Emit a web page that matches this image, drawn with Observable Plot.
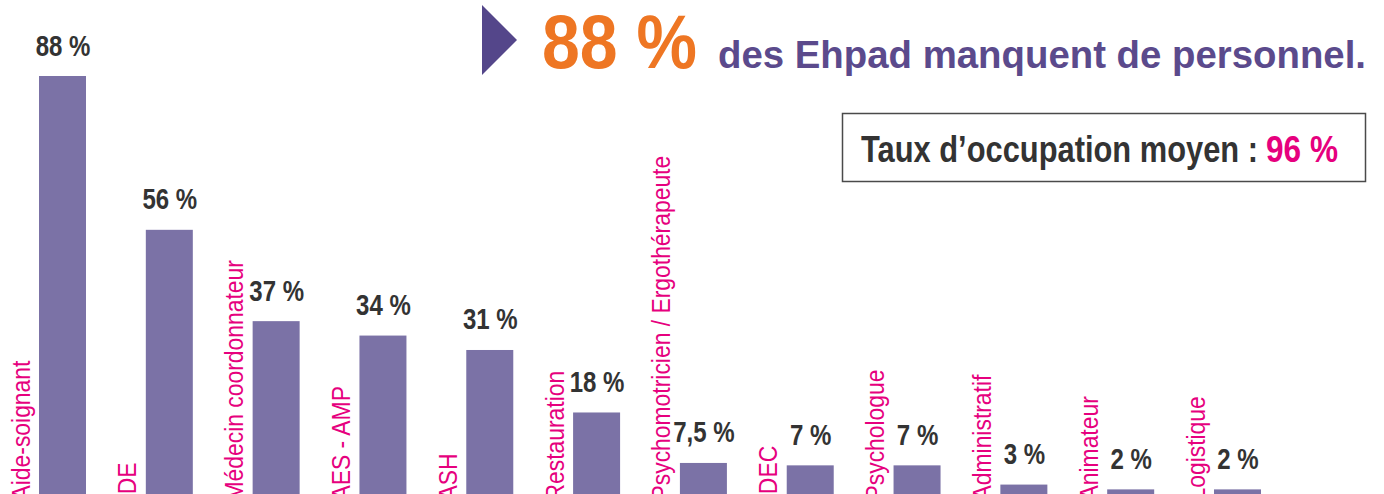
<!DOCTYPE html>
<html>
<head>
<meta charset="utf-8">
<script src="https://cdn.jsdelivr.net/npm/d3@7"></script>
<script src="https://cdn.jsdelivr.net/npm/@observablehq/plot@0.6"></script>
<style>
  html, body { margin: 0; padding: 0; background: #fff; overflow: hidden; width: 1384px; height: 494px; }
  #wrap { position: relative; width: 1384px; height: 494px; }
  #chart, #overlay { position: absolute; left: 0; top: 0; }
</style>
</head>
<body>
<div id="wrap"><div id="chart"></div><div id="overlay"></div></div>
<script>
// ---- data ----
const categories = ["Aide-soignant", "IDE", "Médecin coordonnateur", "AES - AMP", "ASH", "Restauration",
  "Psychomotricien / Ergothérapeute", "IDEC", "Psychologue", "Administratif", "Animateur", "Logistique"];
const values = [88, 56, 37, 34, 31, 18, 7.5, 7, 7, 3, 2, 2];
const valueLabels = ["88 %", "56 %", "37 %", "34 %", "31 %", "18 %", "7,5 %", "7 %", "7 %", "3 %", "2 %", "2 %"];
const headlineValue = "88 %";
const headlineText = "des Ehpad manquent de personnel.";
const occupancyLabel = "Taux d’occupation moyen :";
const occupancyValue = "96 %";

const rows = categories.map((c, i) => ({category: c, value: values[i], label: valueLabels[i]}));

const FONT = "'Liberation Sans', Arial, sans-serif";
const BAR = "#7b72a6";
const PINK = "#e6007e";
const DARK = "#333333";

// condense text horizontally (the original uses a condensed typeface)
function condense(el, factor) {
  const len = el.getComputedTextLength();
  el.setAttribute("textLength", (len * factor).toFixed(1));
  el.setAttribute("lengthAdjust", "spacingAndGlyphs");
}

const chart = Plot.plot({
  width: 1384,
  height: 500,
  marginTop: 76,
  marginBottom: 1,
  marginLeft: 39,
  marginRight: 123,
  style: {fontFamily: FONT, background: "transparent", overflow: "visible"},
  x: {domain: categories, paddingInner: 0.56, paddingOuter: 0, round: false, axis: null},
  y: {domain: [0, 88], axis: null},
  marks: [
    Plot.barY(rows, {x: "category", y: "value", fill: BAR}),
    Plot.text(rows, {x: "category", y: "value", text: "label", lineAnchor: "bottom", dy: -21,
      fontSize: 30, fontWeight: "bold", fill: DARK, fontFamily: FONT, className: "vlabel"}),
    Plot.text(rows, {x: "category", y: () => 0, text: "category", rotate: -90, textAnchor: "start",
      lineAnchor: "bottom", dx: -33.5, dy: 1, fontSize: 26, fill: PINK, fontFamily: FONT, className: "clabel"})
  ]
});
document.getElementById("chart").appendChild(chart);
chart.querySelectorAll(".vlabel text").forEach(t => condense(t, 0.8));
chart.querySelectorAll(".clabel text").forEach(t => condense(t, 0.88));

// ---- headline and box overlay ----
const ov = d3.create("svg").attr("width", 1384).attr("height", 494)
  .style("font-family", FONT).style("font-weight", "bold");
document.getElementById("overlay").appendChild(ov.node());
ov.append("polygon").attr("points", "482,5 517,40 482,75").attr("fill", "#54468a");
ov.append("text").attr("x", 542).attr("y", 68).attr("fill", "#ee7623").style("font-size", "76px")
  .attr("textLength", 155).attr("lengthAdjust", "spacingAndGlyphs").text(headlineValue);
ov.append("text").attr("x", 718).attr("y", 68).attr("fill", "#5b4a8c").style("font-size", "39px")
  .attr("textLength", 648).attr("lengthAdjust", "spacingAndGlyphs").text(headlineText);
ov.append("rect").attr("x", 842.5).attr("y", 113.5).attr("width", 523).attr("height", 68)
  .attr("fill", "none").attr("stroke", "#4a4a4a").attr("stroke-width", 1.5);
ov.append("text").attr("x", 861).attr("y", 162).attr("fill", DARK).style("font-size", "36px")
  .attr("textLength", 397).attr("lengthAdjust", "spacingAndGlyphs").text(occupancyLabel);
ov.append("text").attr("x", 1266).attr("y", 162).attr("fill", PINK).style("font-size", "36px")
  .attr("textLength", 72).attr("lengthAdjust", "spacingAndGlyphs").text(occupancyValue);
</script>
</body>
</html>
